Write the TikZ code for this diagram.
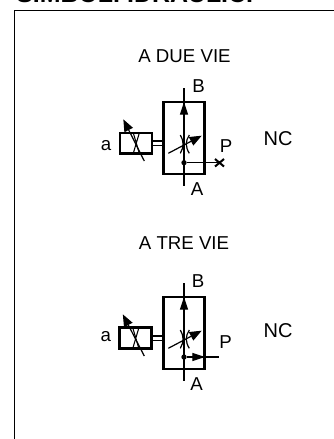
\documentclass[tikz,border=0pt]{standalone}
\usepackage{fontspec}
\setmainfont{Liberation Sans}
\usetikzlibrary{positioning, arrows.meta}

\tikzset{
    lbl/.style={inner sep=0pt, font=\fontsize{14}{16}\selectfont},
    biglbl/.style={inner sep=0pt, font=\fontsize{15}{17}\selectfont},
    frame/.style={draw, line width=1pt},
    body/.style={draw, line width=1.8pt, minimum width=30.5pt, minimum height=54pt, inner sep=0pt},
    coil/.style={draw, line width=1.8pt, minimum width=24pt, minimum height=15.5pt, inner sep=0pt},
    dot/.style={circle, fill, minimum size=4pt, inner sep=0pt},
    thin line/.style={draw, line width=.8pt},
    flow/.style={line width=.8pt, -{Triangle[length=9.5pt,width=6pt]}},
    adjust/.style={line width=.9pt, -{Triangle[length=9pt,width=7pt]}},
}

\begin{document}
\begin{tikzpicture}[x=.75pt, y=-.75pt]
    \useasboundingbox (0,0) rectangle (334,439);
    \clip (0,0) rectangle (334,439);

    \node[inner sep=0pt, font=\fontsize{18.7}{20}\selectfont\bfseries, anchor=base west] (title) at (16,2.5) {SIMBOLI IDRAULICI};
    \coordinate (frametl) at (14.5,10.7);
    \coordinate (frametr) at (340,10.7);
    \coordinate (framebl) at (14.5,445);
    \draw[frame] (frametr) -- (frametl) -- (framebl);

    % first valve
    \node[lbl] (name1) at (184.5,56) {A DUE VIE};
    \node[body] (body1) at (184,138) {};
    \node[coil] (coil1) at (135.8,143.2) {};
    \node[lbl] (a1) at (106,146) {a};
    \node[lbl] (B1) at (198.5,86) {B};
    \node[lbl] (A1) at (197,189) {A};
    \node[lbl] (P1) at (226,146) {P};
    \node[biglbl] (NC1) at (278,138.5) {NC};
    \node[dot] (dot1) at (184,162.7) {};
    \coordinate (top1) at (184,88.3);
    \coordinate (bot1) at (184,185.7);
    \coordinate (xp1) at (219.5,162.7);

    \path[thin line] (top1) -- (bot1);
    \draw[flow] (184,116) -- (184,102);
    \path[thin line] (dot1) -- (xp1);
    \draw[line width=1.5pt] (215,159) -- (224,166.5) (215,166.5) -- (224,159);

    % throttle with arrow 1
    \draw[line width=.9pt] (180.3,135) .. controls (184,141) and (184,147) .. (180.3,153.3);
    \draw[line width=.9pt] (189.3,135) .. controls (185.3,141) and (185.3,147) .. (189.3,153.3);
    \draw[adjust] (168.3,153.3) -- (201.7,135.7);

    % coil details 1
    \path[thin line] (133.3,133) -- (139.3,153.3) (139.3,133) -- (133.3,153.3);
    \draw[adjust] (144.3,161) -- (123.3,119.3);
    \path[thin line] (152,141) -- (163,141) (152,145.5) -- (163,145.5);

    % second valve
    \node[lbl] (name2) at (184,243) {A TRE VIE};
    \node[body] (body2) at (184,333) {};
    \node[coil] (coil2) at (135.5,338) {};
    \node[lbl] (a2) at (105.7,337) {a};
    \node[lbl] (B2) at (198,281) {B};
    \node[lbl] (A2) at (196.7,384) {A};
    \node[lbl] (P2) at (225.7,342) {P};
    \node[biglbl] (NC2) at (278,331) {NC};
    \node[dot] (dot2) at (184,357) {};
    \coordinate (top2) at (184,283.3);
    \coordinate (bot2) at (184,380.7);
    \coordinate (xp2) at (219,357);

    \path[thin line] (top2) -- (bot2);
    \draw[flow] (184,311) -- (184,297);
    \path[thin line] (dot2) -- (xp2);
    \draw[flow] (190,357) -- (205,357);

    % throttle with arrow 2
    \draw[line width=.9pt] (180.3,330) .. controls (184,336) and (184,342) .. (180.3,348.3);
    \draw[line width=.9pt] (189.3,330) .. controls (185.3,336) and (185.3,342) .. (189.3,348.3);
    \draw[adjust] (168.3,348.3) -- (201.7,330.7);

    % coil details 2
    \path[thin line] (132.8,328) -- (138.8,348.3) (138.8,328) -- (132.8,348.3);
    \draw[adjust] (144.3,356) -- (122.8,314.3);
    \path[thin line] (151.5,336) -- (163,336) (151.5,340.5) -- (163,340.5);
\end{tikzpicture}
\end{document}
